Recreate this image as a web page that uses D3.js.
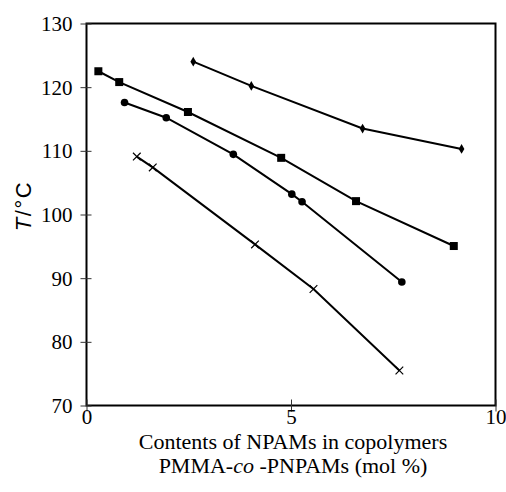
<!DOCTYPE html>
<html>
<head>
<meta charset="utf-8">
<script src="https://cdn.jsdelivr.net/npm/d3@7"></script>
<style>
  body { margin: 0; background: #fff; }
  svg text { font-family: "Liberation Serif", "Times New Roman", serif; fill: #000; }
</style>
</head>
<body>
<div id="chart"></div>
<script>
const xTicks = [0, 5, 10];
const yTicks = [70, 80, 90, 100, 110, 120, 130];

const diamondX = [2.61, 4.03, 6.75, 9.17];
const diamondY = [124.0, 120.2, 113.5, 110.3];

const squareX = [0.29, 0.80, 2.48, 4.76, 6.59, 8.98];
const squareY = [122.5, 120.8, 116.1, 108.9, 102.1, 95.05];

const circleX = [0.93, 1.95, 3.59, 5.02, 5.27, 7.71];
const circleY = [117.6, 115.2, 109.45, 103.2, 102.0, 89.4];

const crossX = [1.23, 1.62, 4.12, 5.55, 7.65];
const crossY = [109.1, 107.4, 95.3, 88.3, 75.5];

const W = 506, H = 492;
const margin = { top: 23.5, right: 10.5, bottom: 86.5, left: 86.5 };
const width = W - margin.left - margin.right;
const height = H - margin.top - margin.bottom;
const serif = '"Liberation Serif", "Times New Roman", serif';

const svg = d3.select("#chart").append("svg")
    .attr("width", W)
    .attr("height", H);

const g = svg.append("g")
    .attr("transform", `translate(${margin.left},${margin.top})`);

const x = d3.scaleLinear().domain([0, 10]).range([0, width]);
const y = d3.scaleLinear().domain([70, 130]).range([height, 0]);

// frame
g.append("rect")
    .attr("width", width)
    .attr("height", height)
    .attr("fill", "none")
    .attr("stroke", "#000")
    .attr("stroke-width", 2);

// y axis
const yAxis = g.append("g")
    .call(d3.axisLeft(y).tickValues(yTicks).tickSize(6).tickPadding(8).tickFormat(d3.format("d")));
yAxis.select(".domain").remove();
yAxis.selectAll(".tick line").attr("x2", -6).attr("x1", 5).attr("stroke", "#333");
yAxis.selectAll("text")
    .attr("font-family", serif)
    .style("font-family", serif)
    .style("font-size", "21px")
    .attr("dy", "0.33em");

// x axis
const xAxis = g.append("g")
    .attr("transform", `translate(0,${height})`)
    .call(d3.axisBottom(x).tickValues(xTicks).tickSize(6).tickFormat(d3.format("d")));
xAxis.select(".domain").remove();
xAxis.selectAll(".tick line").attr("y1", -6).attr("y2", 6).attr("stroke", "#333");
xAxis.selectAll("text")
    .attr("font-family", serif)
    .style("font-family", serif)
    .style("font-size", "21px")
    .attr("y", 18.5)
    .attr("dy", 0);

// axis titles
const xt = svg.append("text")
    .attr("text-anchor", "middle")
    .style("font-size", "22px");
xt.append("tspan").attr("x", 293).attr("y", 449).text("Contents of NPAMs in copolymers");
const l2 = xt.append("tspan").attr("x", 293).attr("y", 473);
l2.append("tspan").text("PMMA-");
l2.append("tspan").style("font-style", "italic").text("co");
l2.append("tspan").text(" -PNPAMs (mol %)");

const yt = svg.append("text")
    .attr("text-anchor", "middle")
    .attr("transform", "translate(31,206) rotate(-90)")
    .style("font-size", "22px")
    .style("letter-spacing", "1.5px")
    .style("font-family", "'Liberation Sans', Arial, sans-serif");
yt.append("tspan").style("font-style", "italic").text("T");
yt.append("tspan").text("/°C");

// series
const series = [
    { xs: diamondX, ys: diamondY, marker: "diamond" },
    { xs: squareX, ys: squareY, marker: "square" },
    { xs: circleX, ys: circleY, marker: "circle" },
    { xs: crossX, ys: crossY, marker: "cross" }
];

const line = d3.line().x(d => x(d[0])).y(d => y(d[1]));

series.forEach(s => {
    const pts = s.xs.map((v, i) => [v, s.ys[i]]);
    g.append("path")
        .datum(pts)
        .attr("d", line)
        .attr("fill", "none")
        .attr("stroke", "#000")
        .attr("stroke-width", 2);

    const m = g.selectAll(null).data(pts).enter();
    if (s.marker === "diamond") {
        m.append("path")
            .attr("d", d3.symbol(d3.symbolDiamond, 28))
            .attr("transform", d => `translate(${x(d[0])},${y(d[1])})`)
            .attr("fill", "#000");
    } else if (s.marker === "square") {
        m.append("rect")
            .attr("x", d => x(d[0]) - 4)
            .attr("y", d => y(d[1]) - 4)
            .attr("width", 8)
            .attr("height", 8)
            .attr("fill", "#000");
    } else if (s.marker === "circle") {
        m.append("circle")
            .attr("cx", d => x(d[0]))
            .attr("cy", d => y(d[1]))
            .attr("r", 3.8)
            .attr("fill", "#000");
    } else {
        m.append("path")
            .attr("d", d3.symbol(d3.symbolX, 40))
            .attr("transform", d => `translate(${x(d[0])},${y(d[1])})`)
            .attr("fill", "none")
            .attr("stroke", "#000")
            .attr("stroke-width", 1.2);
    }
});
</script>
</body>
</html>
